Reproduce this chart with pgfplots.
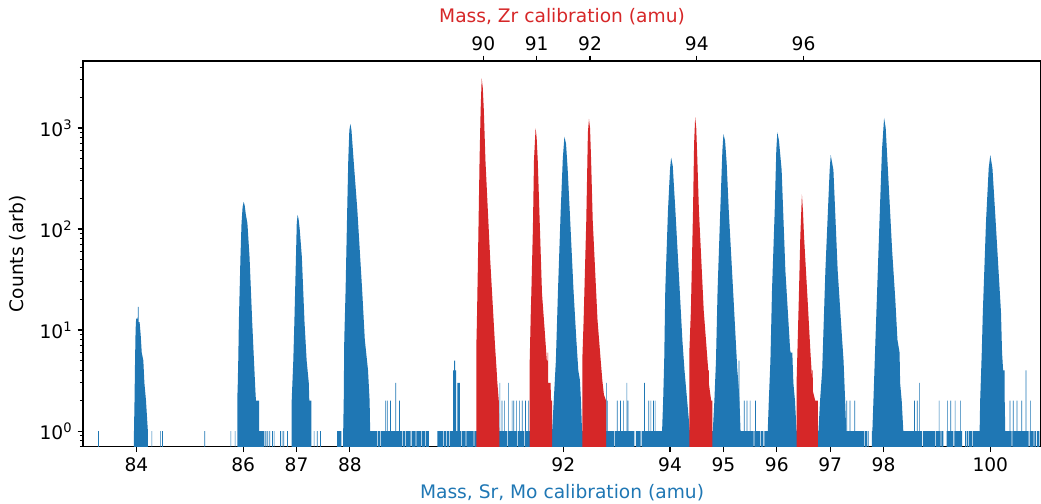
\documentclass[border=0pt]{standalone}
\usepackage{fontspec}
\setmainfont{DejaVu Sans}
\usepackage{pgfplots}
\pgfplotsset{compat=1.18}
\definecolor{tabblue}{HTML}{1F77B4}
\definecolor{tabred}{HTML}{D62728}
\newcommand{\lbl}{\fontsize{12.3}{14}\selectfont}

\begin{document}
\begin{tikzpicture}
\useasboundingbox (-54.8pt,-37.2pt) rectangle (632.3pt,294.9pt);
% main axis: Sr/Mo calibration (bottom)
\begin{axis}[
  width=632.3pt, height=254.6pt, scale only axis,
  xmin=83.0, xmax=100.95, ymode=log, ymin=0.7, ymax=4600,
  log origin y=infty,
  axis line style={line width=0.8pt},
  tick align=outside, xtick pos=left, ytick pos=left,
  major tick length=3.5pt, minor tick length=2pt,
  every tick/.style={black, line width=0.8pt},
  minor tick style={line width=0.6pt},
  xtick={84,86,87,88,92,94,95,96,97,98,100},
  xticklabels={84,86,87,88,92,94,95,96,97,98,100},
  ytick={1,10,100,1000},
  yticklabels={10\textsuperscript{0},10\textsuperscript{1},10\textsuperscript{2},10\textsuperscript{3}},
  minor ytick={0.7,0.8,0.9,2,3,4,5,6,7,8,9,20,30,40,50,60,70,80,90,200,300,400,500,600,700,800,900,2000,3000,4000},
  tick label style={font=\lbl},
  xlabel={Mass, Sr, Mo calibration (amu)},
  xlabel style={font=\lbl, color=tabblue, at={(axis description cs:0.5,-0.120)}, anchor=center},
  ylabel={Counts (arb)},
  ylabel style={font=\lbl, at={(axis description cs:-0.0678,0.5)}, anchor=center},
]
% blue histogram (floor value 0.5 lies below the axis and is clipped)
\addplot[fill=tabblue, draw=none] coordinates {
(83.0,0.5)
(83.955,0.5)(83.955,1)(83.965,2)(83.975,5)(83.985,10)(83.995,13)(84.025,13)(84.028,17)(84.04,17)(84.043,12)(84.06,12)(84.08,9)(84.10,6)(84.13,5)(84.15,3)(84.18,2)(84.215,1)(84.215,0.5)
(85.89,0.5)(85.89,2)(85.90,3)(85.91,5.4)(85.92,12)(85.95,53)(85.97,114)(85.99,165)(86.01,186)(86.03,170)(86.05,140)(86.08,114)(86.12,53)(86.17,12)(86.20,5.4)(86.23,2.5)(86.24,2)(86.30,2)(86.30,1)(86.39,1)(86.39,0.5)
(86.91,0.5)(86.91,2)(86.94,5)(86.96,12)(86.99,53)(87.005,114)(87.02,138)(87.04,125)(87.06,100)(87.10,53)(87.15,12)(87.19,5)(87.23,3)(87.24,2)(87.28,2)(87.28,0.5)
(87.76,0.5)(87.76,1)(87.84,1)(87.84,0.5)
(87.875,0.5)(87.875,1)(87.885,2)(87.895,8)(87.92,25)(87.95,154)(87.97,480)(87.99,950)(88.01,1100)(88.03,950)(88.07,480)(88.14,154)(88.23,25)(88.28,8)(88.34,4)(88.37,2)(88.38,1)
(88.51,1)(88.51,0.5)(88.525,0.5)(88.525,1)(88.57,1)(88.57,0.5)(88.585,0.5)(88.585,1)
(88.98,1)(88.98,0.5)(88.995,0.5)(88.995,1)(89.04,1)(89.04,0.5)(89.055,0.5)(89.055,1)
(89.14,1)(89.14,0.5)(89.155,0.5)(89.155,1)(89.23,1)(89.23,0.5)(89.245,0.5)(89.245,1)
(89.33,1)(89.33,0.5)(89.345,0.5)(89.345,1)(89.41,1)(89.41,0.5)(89.425,0.5)(89.425,1)(89.48,1)(89.48,0.5)
(89.64,0.5)(89.64,1)(89.75,1)(89.75,0.5)(89.765,0.5)(89.765,1)(89.80,1)(89.80,0.5)(89.815,0.5)(89.815,1)(89.86,1)(89.86,0.5)(89.875,0.5)(89.875,1)
(89.935,1)(89.935,4)(89.955,4)(89.955,5)(89.97,5)(89.97,4)(89.99,4)(89.99,1)(90.015,1)(90.015,3)(90.06,3)(90.06,1)
(90.09,1)(90.09,0.5)(90.105,0.5)(90.105,1)(90.17,1)(90.17,0.5)(90.185,0.5)(90.185,1)(90.32,1)(90.32,0.5)(90.335,0.5)(90.335,1)
(90.95,1)(90.95,0.5)(90.965,0.5)(90.965,1)(91.13,1)(91.13,0.5)(91.145,0.5)(91.145,1)(91.26,1)(91.26,0.5)(91.275,0.5)(91.275,1)
(91.79,1)(91.82,2)(91.86,5)(91.90,25)(91.95,150)(91.99,500)(92.02,820)(92.05,700)(92.08,400)(92.12,150)(92.19,25)(92.24,8.6)(92.28,4)(92.31,3.2)(92.33,2)(92.35,1)
(92.95,1)(92.95,0.5)(92.965,0.5)(92.965,1)(93.33,1)(93.33,0.5)(93.36,0.5)(93.36,1)
(93.45,1)(93.45,0.5)(93.465,0.5)(93.465,1)
(93.85,1)(93.87,2)(93.89,5)(93.91,25)(93.96,150)(94.00,400)(94.02,510)(94.05,420)(94.10,150)(94.18,25)(94.23,8)(94.27,4)(94.32,2)(94.37,1)
(94.80,1)(94.83,2)(94.86,5)(94.89,25)(94.94,150)(94.98,600)(95.00,870)(95.03,750)(95.06,450)(95.10,150)(95.18,25)(95.22,10)(95.26,4)(95.28,3)(95.30,2)(95.32,1)
(95.566,1)(95.566,0.5)(95.58,0.5)(95.58,1)(95.69,1)(95.69,0.5)(95.705,0.5)(95.705,1)(95.75,1)(95.75,0.5)(95.765,0.5)(95.765,1)
(95.83,1)(95.85,2)(95.88,5)(95.91,25)(95.96,150)(95.99,600)(96.01,910)(96.04,750)(96.09,385)(96.16,39)(96.25,6.3)(96.26,6)(96.29,6)(96.31,3)(96.34,2)(96.37,1)
(96.78,1)(96.81,2)(96.85,4)(96.91,39)(96.99,385)(97.01,540)(97.06,385)(97.14,39)(97.22,8.6)(97.25,5)(97.28,2)(97.30,1)
(97.63,1)(97.63,0.5)(97.645,0.5)(97.645,1)(97.69,1)(97.69,0.5)(97.705,0.5)(97.705,1)
(97.72,1)(97.72,0.5)(97.78,0.5)(97.78,1)
(97.79,1)(97.81,2)(97.84,6)(97.88,25)(97.93,150)(97.97,600)(98.01,1260)(98.04,1000)(98.07,500)(98.11,200)(98.16,62)(98.22,20)(98.26,8)(98.30,6)(98.31,3)(98.34,2)(98.37,1)
(98.72,1)(98.72,0.5)(98.735,0.5)(98.735,1)(98.97,1)(98.97,0.5)(98.985,0.5)(98.985,1)
(99.07,1)(99.07,0.5)(99.085,0.5)(99.085,1)
(99.12,1)(99.12,0.5)(99.18,0.5)(99.18,1)(99.31,1)(99.31,0.5)(99.325,0.5)(99.325,1)
(99.47,1)(99.47,0.5)(99.53,0.5)(99.53,1)(99.55,1)(99.55,0.5)(99.565,0.5)(99.565,1)
(99.58,1)(99.58,0.5)(99.595,0.5)(99.595,1)(99.66,1)(99.66,0.5)(99.675,0.5)(99.675,1)
(99.80,1)(99.81,2)(99.84,6)(99.86,15)(99.92,120)(99.97,400)(100.0,540)(100.04,400)(100.10,120)(100.20,15)(100.22,6)(100.24,4)(100.27,4)(100.27,2)(100.28,1)
(100.40,1)(100.40,0.5)(100.415,0.5)(100.415,1)(100.72,1)(100.72,0.5)(100.735,0.5)(100.735,1)
(100.81,1)(100.81,0.5)(100.825,0.5)(100.825,1)(100.86,1)(100.86,0.5)(100.875,0.5)(100.875,1)
(100.92,1)(100.92,0.5)(100.95,0.5)
};
% isolated single bins
\addplot[ybar, bar width=0.012, bar shift=0pt, fill=tabblue, draw=none] coordinates {
(83.29,1)(84.29,1)(84.45,1)(84.49,1)(85.28,1)(85.77,1)(85.85,1)
(86.41,1)(86.43,1)(86.46,1)(86.50,1)(86.55,1)(86.58,1)(86.70,1)(86.73,1)(86.76,1)(86.83,1)
(87.33,1)(87.39,1)(87.45,1)
(88.67,2)(88.70,2)(88.76,2)(88.86,3)(88.93,2)
(90.81,3)(90.85,2)(90.90,2)(90.97,3)(91.04,2)(91.07,2)(91.12,2)(91.18,2)(91.23,2)(91.29,2)(91.35,2)
(92.81,3)(92.83,2)(93.01,2)(93.07,2)(93.13,2)(93.19,3)(93.21,2)(93.52,3)(93.60,2)(93.64,2)(93.69,2)(93.72,2)
(95.29,5)(95.39,2)(95.44,2)(95.50,2)(95.60,2)
(97.31,2)(97.37,2)(97.46,2)
(98.58,2)(98.63,2)(98.67,3)(99.04,2)(99.20,2)(99.26,2)(99.34,2)(99.44,2)
(100.37,2)(100.43,2)(100.50,2)(100.59,2)(100.67,4)(100.75,2)
};
% red histogram (Zr calibration)
\addplot[fill=tabred, draw=none] coordinates {
(90.0,0.5)
(90.37,0.5)(90.37,7)(90.38,12)(90.40,49)(90.43,480)(90.45,1500)(90.47,3100)(90.49,2500)(90.51,1500)(90.54,480)(90.63,49)(90.72,7)(90.75,4)(90.76,3.2)(90.79,2)(90.80,1)(90.80,0.5)
(91.37,0.5)(91.37,5)(91.39,15)(91.40,23)(91.43,105)(91.45,480)(91.48,1000)(91.50,800)(91.52,480)(91.56,105)(91.60,23)(91.65,10)(91.69,5)(91.705,5)(91.705,6)(91.715,6)(91.715,3)(91.76,3)(91.77,2)(91.79,2)(91.79,0.5)
(92.355,0.5)(92.355,5)(92.38,12.6)(92.43,123)(92.46,900)(92.48,1230)(92.50,1000)(92.52,480)(92.55,123)(92.64,12.6)(92.70,5)(92.73,3.2)(92.76,2.3)(92.80,2)(92.80,0.5)
(94.36,0.5)(94.36,5.9)(94.39,15.7)(94.43,154)(94.45,700)(94.47,1280)(94.49,1000)(94.51,500)(94.54,154)(94.63,15.7)(94.69,6)(94.715,4)(94.725,4)(94.725,3)(94.77,2)(94.79,2)(94.79,0.5)
(96.37,0.5)(96.37,3)(96.41,18.5)(96.44,84)(96.47,220)(96.49,150)(96.51,84)(96.58,18.5)(96.63,6)(96.665,3)(96.665,4)(96.675,4)(96.675,2.5)(96.72,2)(96.77,2)(96.77,0.5)
(97.0,0.5)
};
\end{axis}
% top axis: Zr calibration, shifted by half a mass unit
\begin{axis}[
  width=632.3pt, height=254.6pt, scale only axis,
  xmin=82.5, xmax=100.45, ymin=0, ymax=1,
  axis x line*=top, hide y axis,
  axis line style={line width=0.8pt},
  tick align=outside, major tick length=3.5pt,
  every tick/.style={black, line width=0.8pt},
  xtick={90,91,92,94,96}, xticklabels={90,91,92,94,96},
  tick label style={font=\lbl},
  xlabel={Mass, Zr calibration (amu)},
  xlabel style={font=\lbl, color=tabred, at={(axis description cs:0.5,1.114)}, anchor=center},
]
\end{axis}
\end{tikzpicture}
\end{document}
